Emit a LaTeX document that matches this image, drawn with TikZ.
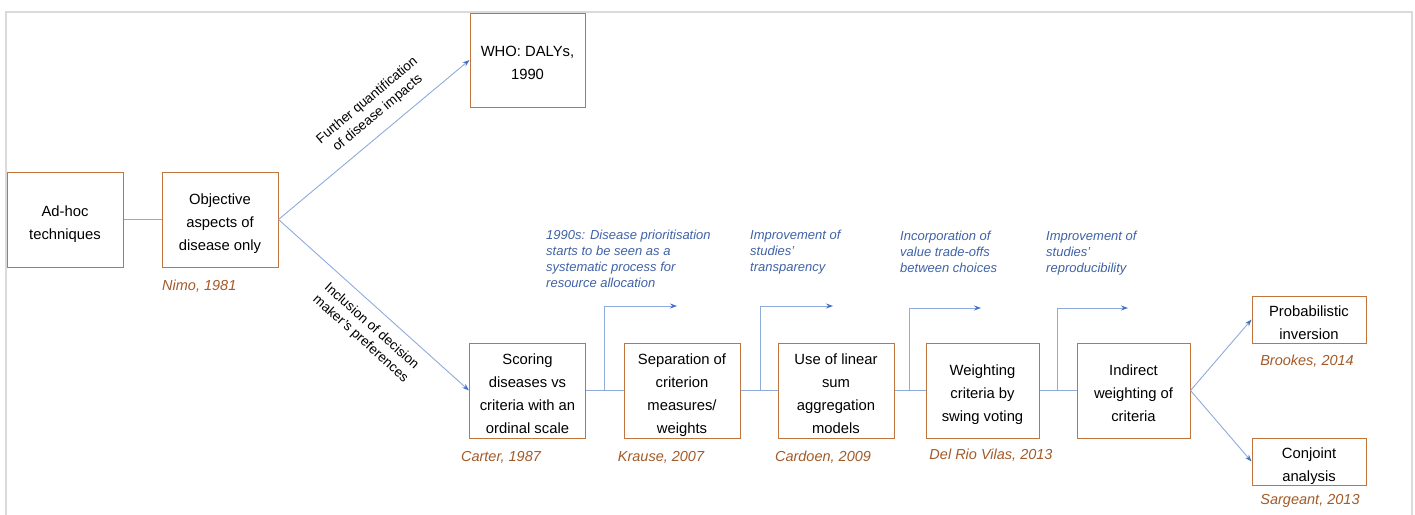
\documentclass[tikz,border=0pt]{standalone}
\usepackage{fontspec}
\setmainfont{Liberation Sans}
\usetikzlibrary{arrows.meta,calc}
\definecolor{boxedge}{HTML}{C0743E}
\definecolor{citebrown}{HTML}{A25A28}
\definecolor{noteblue}{HTML}{3F62A6}
\definecolor{linkblue}{HTML}{8FAADC}
\definecolor{tipblue}{HTML}{4472C4}
\definecolor{framegray}{HTML}{DADADA}

\begin{document}
\begin{tikzpicture}[x=1pt,y=-1pt,
  stage/.style={draw=boxedge, line width=1pt, minimum width=116pt, minimum height=95pt,
    inner sep=2pt, align=center, font=\fontsize{14.8}{23}\selectfont, text depth=0pt},
  % fixed text heights place the lines slightly below the box centre
  twolines/.style={text height=39pt},
  threelines/.style={text height=62pt},
  fourlines/.style={text height=85pt},
  smallstage/.style={stage, twolines, minimum width=114pt, minimum height=47pt},
  cite/.style={text=citebrown, font=\fontsize{14.5}{17}\selectfont\itshape, inner sep=0pt},
  note/.style={text=noteblue, font=\fontsize{13}{16}\selectfont\itshape, align=left,
    anchor=north west, inner sep=0pt},
  link/.style={draw=linkblue, line width=0.9pt},
  arrowlink/.style={link, -{Stealth[length=7pt,width=5pt,fill=tipblue,color=tipblue]}},
  slopelabel/.style={font=\fontsize{13.5}{16.5}\selectfont, align=center, sloped, inner sep=0pt}
]
\useasboundingbox (0,0) rectangle (1415,514);

% outer frame, open at the bottom
\draw[framegray, line width=1.5pt] (6,530) -- (6,12) -- (1412,12) -- (1412,530);

% stages
\node[stage, twolines] (adhoc) at (65,219.5) {Ad-hoc\\techniques};
\node[stage, threelines] (objective) at (220,219.5) {Objective\\aspects of\\disease only};
\node[stage, twolines, minimum width=115pt, minimum height=94pt] (who) at (527.5,60) {WHO: DALYs,\\1990};
\node[stage, fourlines] (scoring) at (527.5,390.5) {Scoring\\diseases vs\\criteria with an\\ordinal scale};
\node[stage, fourlines] (separation) at (682,390.5) {Separation of\\criterion\\measures/\\weights};
\node[stage, fourlines] (linear) at (836,390.5) {Use of linear\\sum\\aggregation\\models};
\node[stage, threelines, minimum width=113pt] (swing) at (982.5,390.5) {Weighting\\criteria by\\swing voting};
\node[stage, threelines, minimum width=113pt] (indirect) at (1133.5,390.5) {Indirect\\weighting of\\criteria};
\node[smallstage] (prob) at (1309,319.5) {Probabilistic\\inversion};
\node[smallstage] (conjoint) at (1309,461.5) {Conjoint\\analysis};

% references
\node[cite, anchor=west] (nimo) at (162,286) {Nimo,\ 1981};
\node[cite] (carter) at (501,457) {Carter,\ 1987};
\node[cite] (krause) at (661,457) {Krause,\ 2007};
\node[cite] (cardoen) at (823,457) {Cardoen,\ 2009};
\node[cite] (delrio) at (991,455) {Del Rio Vilas,\ 2013};
\node[cite] (brookes) at (1307,361) {Brookes,\ 2014};
\node[cite] (sargeant) at (1310,501) {Sargeant,\ 2013};

% notes on the side branches
\node[note] (n1) at (546,230) {1990s: Disease prioritisation\\starts to be seen as a\\systematic process for\\resource allocation};
\node[note] (n2) at (750,230) {Improvement of\\studies'\\transparency};
\node[note] (n3) at (900,231) {Incorporation of\\value trade-offs\\between choices};
\node[note] (n4) at (1046,231) {Improvement of\\studies'\\reproducibility};

% main connectors
\draw[link] (adhoc.east) -- (objective.west);
\draw[arrowlink] (objective.east) -- (who.west)
  node[slopelabel, pos=0.58, above=11pt] {Further quantification\\of disease impacts};
\draw[arrowlink] (objective.east) -- (scoring.west)
  node[slopelabel, pos=0.55, below=11pt] {Inclusion of decision\\maker's preferences};
\draw[link] (scoring.east) -- (separation.west);
\draw[link] (separation.east) -- (linear.west);
\draw[link] (linear.east) -- (swing.west);
\draw[link] (swing.east) -- (indirect.west);
\draw[arrowlink] (indirect.east) -- (prob.west);
\draw[arrowlink] (indirect.east) -- (conjoint.west);

% side branches
\coordinate (b1) at (604,390.5);  \coordinate (t1) at (677,306);
\coordinate (b2) at (760,390.5);  \coordinate (t2) at (833,306);
\coordinate (b3) at (909,390.5);  \coordinate (t3) at (981,308);
\coordinate (b4) at (1057,390.5); \coordinate (t4) at (1128,308);
\draw[arrowlink] (b1) |- (t1);
\draw[arrowlink] (b2) |- (t2);
\draw[arrowlink] (b3) |- (t3);
\draw[arrowlink] (b4) |- (t4);
\end{tikzpicture}
\end{document}
